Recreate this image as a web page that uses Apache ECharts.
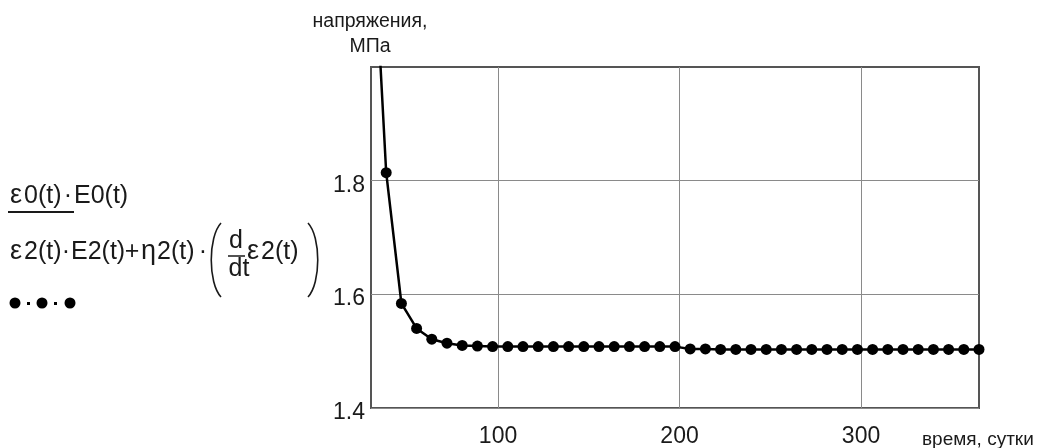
<!DOCTYPE html>
<html>
<head>
<meta charset="utf-8">
<script src="https://cdn.jsdelivr.net/npm/echarts@6/dist/echarts.min.js"></script>
<style>
  html, body { margin: 0; padding: 0; background: #fff; }
  #chart { width: 1037px; height: 448px; }
</style>
</head>
<body>
<div id="chart"></div>
<script>
// time, days (step 8.375 from 30 to 365)
const days = [30, 38.375, 46.75, 55.125, 63.5, 71.875, 80.25, 88.625, 97, 105.375,
  113.75, 122.125, 130.5, 138.875, 147.25, 155.625, 164, 172.375, 180.75, 189.125,
  197.5, 205.875, 214.25, 222.625, 231, 239.375, 247.75, 256.125, 264.5, 272.875,
  281.25, 289.625, 298, 306.375, 314.75, 323.125, 331.5, 339.875, 348.25, 356.625, 365];
// stress, MPa
const stress = [2.315, 1.814, 1.584, 1.540, 1.521, 1.514, 1.510, 1.509, 1.508, 1.508,
  1.508, 1.508, 1.508, 1.508, 1.508, 1.508, 1.508, 1.508, 1.508, 1.508,
  1.508, 1.504, 1.504, 1.503, 1.503, 1.503, 1.503, 1.503, 1.503, 1.503,
  1.503, 1.503, 1.503, 1.503, 1.503, 1.503, 1.503, 1.503, 1.503, 1.503, 1.503];
const xTicks = [100, 200, 300];
const yTicks = [1.4, 1.6, 1.8];

const FONT = '"Liberation Sans", Arial, sans-serif';
const INK = '#1a1a1a';

const chart = echarts.init(document.getElementById('chart'), null, { renderer: 'canvas' });

const points = days.map((d, i) => [d, stress[i]]);

// big parenthesis drawn as a stroked bezier
function paren(x, top, bottom, bulge) {
  return {
    type: 'bezierCurve',
    shape: {
      x1: x, y1: top, x2: x, y2: bottom,
      cpx1: x + bulge, cpy1: top + 14, cpx2: x + bulge, cpy2: bottom - 14
    },
    style: { fill: null, stroke: INK, lineWidth: 1.6 }
  };
}

function txt(x, y, text, size, align) {
  return {
    type: 'text', x: x, y: y,
    style: { text: text, font: `${size}px ${FONT}`, fill: INK,
      align: align || 'left', verticalAlign: 'middle' }
  };
}

chart.setOption({
  animation: false,
  backgroundColor: '#fff',
  grid: {
    left: 371, top: 67, width: 608, height: 346,
    show: true, borderColor: '#555', borderWidth: 2, backgroundColor: 'transparent'
  },
  xAxis: {
    type: 'value', min: 30, max: 365,
    axisLine: { show: false },
    axisTick: { show: false, customValues: xTicks },
    axisLabel: {
      customValues: xTicks, margin: 17,
      fontSize: 23, fontFamily: FONT, color: INK
    },
    splitLine: { show: true, lineStyle: { color: '#8a8a8a', width: 1 } }
  },
  yAxis: {
    type: 'value', min: 1.4, max: 2.0,
    axisLine: { show: false },
    axisTick: { show: false, customValues: yTicks },
    axisLabel: {
      customValues: yTicks, margin: 6,
      verticalAlign: 'top', lineHeight: 9,
      fontSize: 23, fontFamily: FONT, color: INK,
      formatter: v => v.toFixed(1)
    },
    splitLine: { show: true, lineStyle: { color: '#8a8a8a', width: 1 } }
  },
  series: [{
    type: 'line',
    data: points,
    clip: true,
    symbol: 'circle',
    symbolSize: 11,
    lineStyle: { color: '#000', width: 2.5 },
    itemStyle: { color: '#000' }
  }],
  graphic: [
    // axis titles
    txt(370, 22, 'напряжения,', 19.5, 'center'),
    txt(370, 47, 'МПа', 19.5, 'center'),
    txt(922, 440, 'время, сутки', 19, 'left'),
    // legend: trace expression, numerator
    txt(10, 196, 'ε', 27),
    txt(24, 196, '0(t)', 25),
    txt(68, 196, '·', 25, 'center'),
    txt(74, 196, 'E0(t)', 25),
    { type: 'line', shape: { x1: 8, y1: 212, x2: 74, y2: 212 },
      style: { stroke: INK, lineWidth: 2 } },
    // legend: trace expression, second line
    txt(10, 252, 'ε', 27),
    txt(24, 252, '2(t)', 25),
    txt(66, 252, '·', 25, 'center'),
    txt(71, 252, 'E2(t)', 25),
    txt(132, 252, '+', 25, 'center'),
    txt(141, 252, 'η', 27),
    txt(157, 252, '2(t)', 25),
    txt(203, 252, '·', 25, 'center'),
    paren(221, 223, 297, -13),
    txt(236, 241, 'd', 25, 'center'),
    { type: 'line', shape: { x1: 228, y1: 256, x2: 245, y2: 256 },
      style: { stroke: INK, lineWidth: 1.5 } },
    txt(239, 269, 'dt', 25, 'center'),
    txt(247, 252, 'ε', 27),
    txt(261, 252, '2(t)', 25),
    paren(308, 223, 297, 13),
    // legend: trace marker
    { type: 'circle', shape: { cx: 15, cy: 303, r: 5.5 }, style: { fill: '#000' } },
    { type: 'rect', shape: { x: 27, y: 302, width: 3, height: 3 }, style: { fill: '#000' } },
    { type: 'circle', shape: { cx: 42, cy: 303, r: 5.5 }, style: { fill: '#000' } },
    { type: 'rect', shape: { x: 54, y: 302, width: 3, height: 3 }, style: { fill: '#000' } },
    { type: 'circle', shape: { cx: 70, cy: 303, r: 5.5 }, style: { fill: '#000' } }
  ]
});
</script>
</body>
</html>
